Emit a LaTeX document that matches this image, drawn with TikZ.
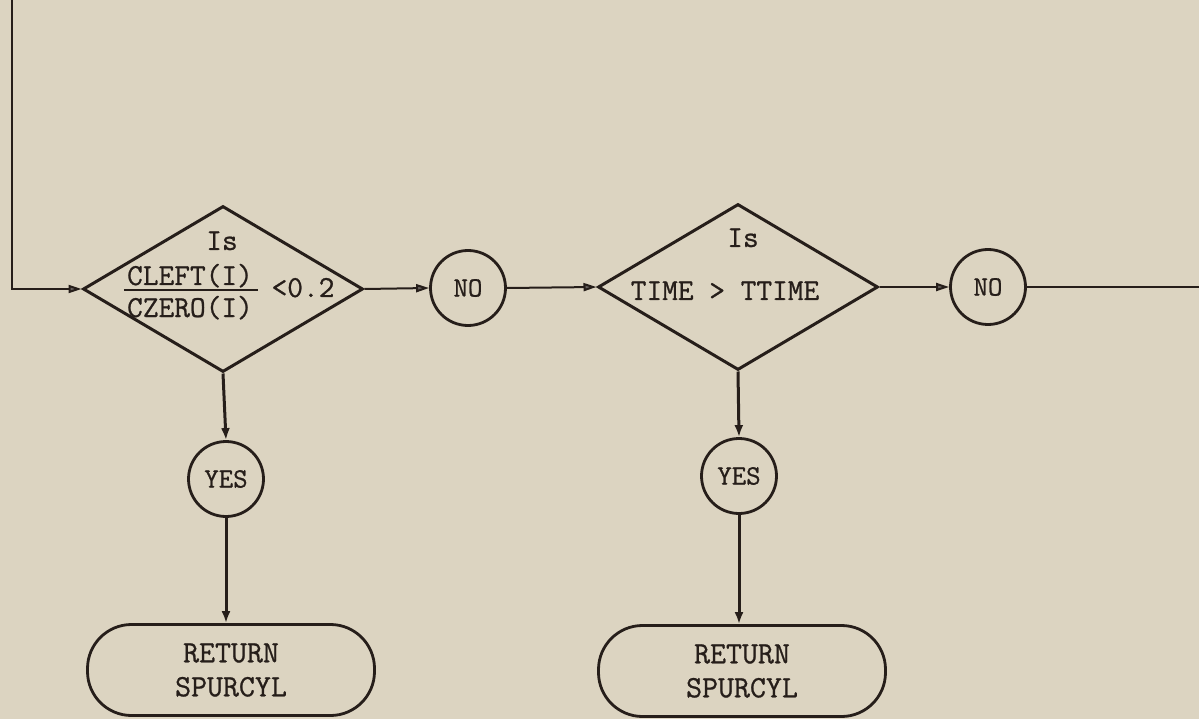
\documentclass[tikz,border=0pt]{standalone}
\usepackage{fontspec}
\setmonofont{Latin Modern Mono}[FakeBold=0.8]
\usetikzlibrary{shapes.geometric,arrows.meta}
\definecolor{paper}{RGB}{220,212,193}
\definecolor{ink}{RGB}{38,30,26}
\tikzset{
  flow/.style={draw=ink, line width=2pt, -{Triangle[length=13pt,width=8pt,fill=ink!70]}},
  down/.style={draw=ink, line width=3pt, -{Latex[length=12pt,width=9pt]}},
  plain/.style={draw=ink, line width=2pt},
  decision/.style={diamond, draw=ink, line width=3pt, minimum width=280pt, minimum height=166pt, inner sep=0pt},
  answer/.style={circle, draw=ink, line width=2.8pt, minimum size=75pt, inner sep=0pt, font=\ttfamily\fontsize{28}{30}\selectfont, text=ink},
  terminal/.style={rectangle, rounded corners=44pt, draw=ink, line width=2.8pt, minimum width=287pt, minimum height=91pt, align=center, font=\ttfamily\fontsize{31}{34}\selectfont, text=ink},
  txt/.style={inner sep=0pt, anchor=base, font=\ttfamily\fontsize{30.5}{34}\selectfont, text=ink},
}
\begin{document}
\begin{tikzpicture}[x=1pt,y=-1pt]
\fill[paper] (0,0) rectangle (1199,719);
\useasboundingbox (0,0) rectangle (1199,719);

% first test: CLEFT(I)/CZERO(I) < 0.2
\node[decision] (d1) at (223,289) {};
\node[txt] (is1) at (222,250) {Is};
\node[txt] (num1) at (190,285) {CLEFT(I)};
\node[txt] (den1) at (190,317) {CZERO(I)};
\node[txt] (lt1) at (303,297) {<0.2};
% fraction bar under the numerator
\draw[ink, line width=1.8pt] ([xshift=-3pt,yshift=-5pt]num1.base west) -- ([xshift=5pt,yshift=-5pt]num1.base east);

\node[answer] (no1) at (468,288) {NO};
\node[answer] (yes1) at (226,479) {YES};
\node[terminal] (ret1) at (231,670) {RETURN\\SPURCYL};

% second test: TIME > TTIME
\node[decision] (d2) at (738,287) {};
\node[txt] (is2) at (743,247) {Is};
\node[txt] (tm) at (725,300) {TIME > TTIME};

\node[answer] (no2) at (988,287) {NO};
\node[answer] (yes2) at (739,476) {YES};
\node[terminal] (ret2) at (742,671) {RETURN\\SPURCYL};

% incoming loop line and exit line
\coordinate (entry) at (12,0);
\coordinate (exit) at (1199,287);
\draw[flow] (entry) |- (d1.west);
\draw[flow] (d1.east) -- (no1.west);
\draw[flow] (no1.east) -- (d2.west);
\draw[flow] (d2.east) -- (no2.west);
\draw[plain] (no2.east) -- (exit);

\draw[down] (d1.south) -- (yes1.north);
\draw[down] (yes1.south) -- (yes1.south |- ret1.north);
\draw[down] (d2.south) -- (yes2.north);
\draw[down] (yes2.south) -- (yes2.south |- ret2.north);
\end{tikzpicture}
\end{document}
